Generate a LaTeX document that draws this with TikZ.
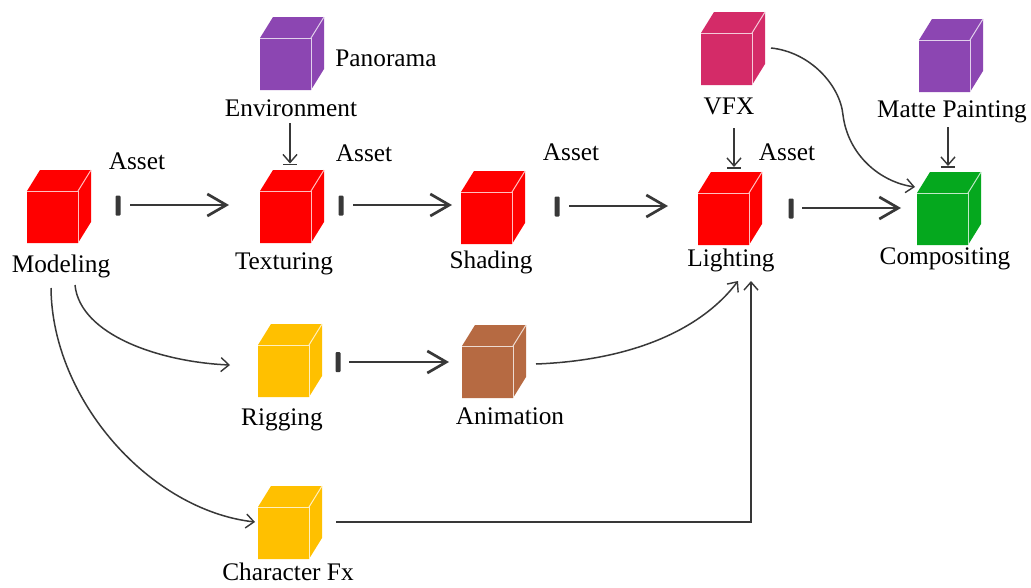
\documentclass[tikz,border=0pt]{standalone}
\usepackage{fontspec}
\setmainfont{Liberation Serif}
\usetikzlibrary{arrows.meta}
\definecolor{cRed}{HTML}{FF0000}
\definecolor{cPurple}{HTML}{8C46B2}
\definecolor{cPink}{HTML}{D42B68}
\definecolor{cGreen}{HTML}{05A81E}
\definecolor{cAmber}{HTML}{FFC000}
\definecolor{cBrown}{HTML}{B66A42}
\definecolor{cLine}{HTML}{383838}
\tikzset{
  x=1pt,y=-1pt,
  lbl/.style={font=\fontsize{25.3}{27}\selectfont,text=black,inner sep=0pt,anchor=center},
  thickarrow/.style={draw=cLine,line width=2.7pt,-{Straight Barb[length=19pt,width=22pt,line width=2.7pt]}},
  thinarrow/.style={draw=cLine,line width=1.5pt,-{Straight Barb[length=8pt,width=14pt,line width=1.4pt]}},
  tickbar/.style={fill=cLine,draw=none,rounded corners=1pt,minimum width=5pt,minimum height=20pt,inner sep=0pt},
  teebar/.style={fill=cLine,draw=none,minimum width=14pt,minimum height=1.6pt,inner sep=0pt},
  cubeface/.style={minimum width=51pt,minimum height=52pt,inner sep=0pt,outer sep=0pt,draw=none},
}
% #1 name, #2 front-left x, #3 front-top y, #4 colour
\newcommand{\mycube}[4]{%
  \fill[#4] (#2,#3) -- ++(13,-21) -- ++(51,0) -- ++(0,52) -- ++(-13,21) -- ++(-51,0) -- cycle;
  \node[cubeface,fill=#4] (#1) at (#2+25.5,#3+26) {};
  \draw[white!75!#4,line width=1pt] (#2+51,#3+52) -- (#2+51,#3) -- (#2,#3);
  \draw[white!75!#4,line width=1pt] (#2+51,#3) -- ++(13,-21);
}
\begin{document}
\begin{tikzpicture}
\useasboundingbox[fill=white] (0,0) rectangle (1031,587);

% cubes
\mycube{modeling}{27}{191}{cRed}
\mycube{texturing}{260}{191}{cRed}
\mycube{shading}{461}{192}{cRed}
\mycube{lighting}{698}{193}{cRed}
\mycube{compositing}{917}{193}{cGreen}
\mycube{panorama}{260}{38}{cPurple}
\mycube{vfx}{701}{33}{cPink}
\mycube{matte}{919}{40}{cPurple}
\mycube{rigging}{258}{345}{cAmber}
\mycube{animation}{462}{346}{cBrown}
\mycube{charfx}{258}{507}{cAmber}

% labels
\node[lbl] (lAsset1) at (137,161) {Asset};
\node[lbl] (lAsset2) at (364,153) {Asset};
\node[lbl] (lAsset3) at (571,152) {Asset};
\node[lbl] (lAsset4) at (787,152) {Asset};
\node[lbl] (lPanorama) at (386,58) {Panorama};
\node[lbl] (lEnv) at (291,108) {Environment};
\node[lbl] (lModeling) at (61,266) {Modeling};
\node[lbl] (lTexturing) at (284,264) {Texturing};
\node[lbl] (lShading) at (491,262) {Shading};
\node[lbl] (lLighting) at (731,260) {Lighting};
\node[lbl] (lCompositing) at (945,259) {Compositing};
\node[lbl] (lVFX) at (729,106) {VFX};
\node[lbl] (lMatte) at (952,112) {Matte Painting};
\node[lbl] (lRigging) at (282,420) {Rigging};
\node[lbl] (lAnimation) at (510,416) {Animation};
\node[lbl] (lCharFx) at (288,572) {Character Fx};

% tick bars
\node[tickbar] (b1) at (118,205.5) {};
\node[tickbar] (b2) at (341,205.5) {};
\node[tickbar] (b3) at (557,206.5) {};
\node[tickbar] (b4) at (791,208.5) {};
\node[tickbar] (b5) at (338,362) {};

% tee bars
\node[teebar] (t1) at (290,164.5) {};
\node[teebar] (t2) at (734,168) {};
\node[teebar] (t3) at (948,167) {};

% free ends
\coordinate (a1s) at (130,205); \coordinate (a1e) at (229,205);
\coordinate (a2s) at (353,205); \coordinate (a2e) at (452,205);
\coordinate (a3s) at (569,206); \coordinate (a3e) at (668,206);
\coordinate (a4s) at (802,208); \coordinate (a4e) at (901,208);
\coordinate (a5s) at (349,362); \coordinate (a5e) at (449,362);
\coordinate (envS) at (290,123);
\coordinate (vfxS) at (734,128);
\coordinate (matteS) at (948,127);
\coordinate (vfxC) at (771,48);
\coordinate (compIn) at (915,187);
\coordinate (modA) at (75,285);
\coordinate (rigIn) at (230,365);
\coordinate (modB) at (51,288);
\coordinate (chIn) at (255,522);
\coordinate (animOut) at (536,364);
\coordinate (lightA) at (738,281);
\coordinate (chOut) at (336,522);
\coordinate (corner) at (751,522);
\coordinate (lightB) at (751,281);

% thick arrows
\draw[thickarrow] (a1s) -- (a1e);
\draw[thickarrow] (a2s) -- (a2e);
\draw[thickarrow] (a3s) -- (a3e);
\draw[thickarrow] (a4s) -- (a4e);
\draw[thickarrow] (a5s) -- (a5e);

% thin straight arrows
\draw[thinarrow] (envS) -- (t1.north);
\draw[thinarrow] (vfxS) -- (t2.north);
\draw[thinarrow] (matteS) -- (t3.north);

% thin curves
\draw[thinarrow] (vfxC) .. controls (810,52) and (840,85) .. (843,115)
                        .. controls (848,155) and (880,182) .. (compIn);
\draw[thinarrow] (modA) .. controls (80,335) and (160,362) .. (rigIn);
\draw[thinarrow] (modB) .. controls (52,400) and (150,510) .. (chIn);
\draw[thinarrow] (animOut) .. controls (640,360) and (705,325) .. (lightA);
\draw[thinarrow] (chOut) -- (corner) -- (lightB);
\end{tikzpicture}
\end{document}
